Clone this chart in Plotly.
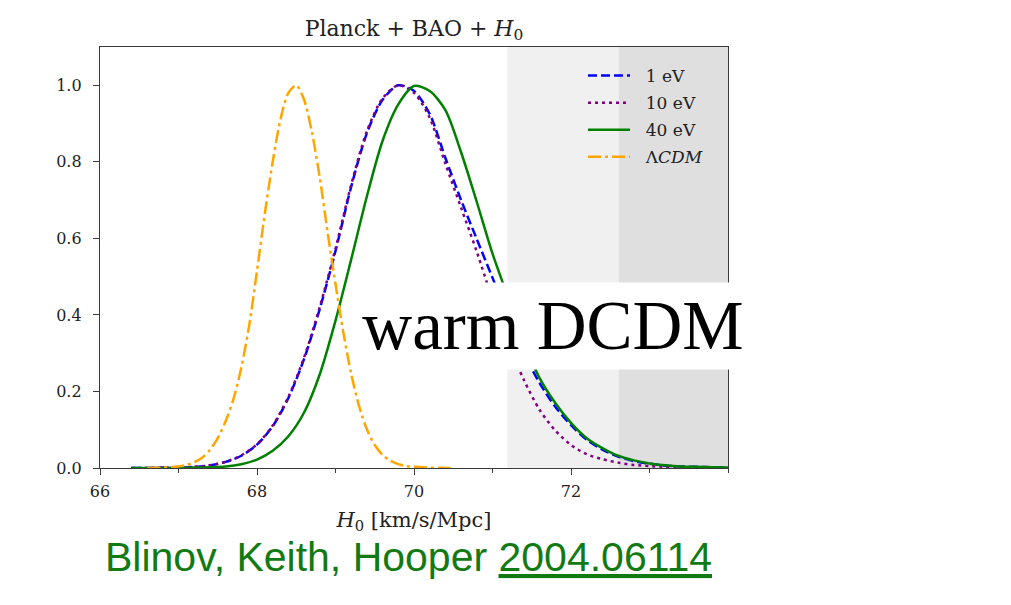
import plotly.graph_objects as go

# ---- data ----
h0_dcdm = [66.4, 66.6, 66.8, 67.0, 67.2, 67.4, 67.6, 67.8, 68.0, 68.2, 68.4, 68.6,
           68.8, 69.0, 69.2, 69.4, 69.6, 69.8, 70.0, 70.2, 70.4, 70.6, 70.8, 71.0,
           71.2, 71.4, 71.6, 71.8, 72.0, 72.2, 72.4, 72.6, 72.8, 73.0, 73.2, 73.4,
           73.6, 73.8, 74.0]
p_1ev = [0.000, 0.000, 0.001, 0.001, 0.003, 0.007, 0.016, 0.032, 0.061, 0.109, 0.183, 0.285,
         0.416, 0.567, 0.735, 0.875, 0.962, 1.000, 0.985, 0.925, 0.810, 0.700, 0.598, 0.497,
         0.395, 0.300, 0.222, 0.160, 0.112, 0.074, 0.048, 0.030, 0.018, 0.011, 0.006, 0.004,
         0.003, 0.002, 0.001]
p_10ev = [0.000, 0.000, 0.001, 0.001, 0.003, 0.007, 0.016, 0.033, 0.062, 0.111, 0.186, 0.289,
          0.421, 0.573, 0.740, 0.880, 0.966, 1.000, 0.980, 0.915, 0.795, 0.680, 0.565, 0.440,
          0.325, 0.230, 0.152, 0.098, 0.060, 0.036, 0.023, 0.014, 0.008, 0.005, 0.003, 0.002,
          0.001, 0.001, 0.000]
p_40ev = [0.000, 0.000, 0.000, 0.000, 0.001, 0.002, 0.004, 0.010, 0.022, 0.045, 0.083, 0.145,
          0.245, 0.385, 0.545, 0.710, 0.855, 0.950, 0.998, 0.985, 0.935, 0.825, 0.695, 0.560,
          0.445, 0.330, 0.235, 0.170, 0.118, 0.078, 0.052, 0.032, 0.020, 0.012, 0.007, 0.004,
          0.003, 0.002, 0.001]
h0_lcdm = [66.6, 66.8, 67.0, 67.1, 67.2, 67.3, 67.4, 67.5, 67.6, 67.7, 67.8, 67.9,
           68.0, 68.1, 68.2, 68.3, 68.4, 68.5, 68.6, 68.7, 68.8, 68.9, 69.0, 69.1,
           69.2, 69.3, 69.4, 69.5, 69.6, 69.7, 69.8, 69.9, 70.0, 70.2, 70.5]
p_lcdm = [0.000, 0.001, 0.004, 0.008, 0.015, 0.027, 0.047, 0.078, 0.122, 0.180, 0.262, 0.372,
          0.515, 0.665, 0.800, 0.912, 0.980, 1.000, 0.962, 0.877, 0.758, 0.615, 0.481, 0.354,
          0.246, 0.162, 0.101, 0.060, 0.034, 0.019, 0.010, 0.005, 0.003, 0.001, 0.000]

series_names = ["1 eV", "10 eV", "40 eV", "Λ<i>CDM</i>"]
shoes_2sigma_low = 71.19
shoes_1sigma_low = 72.61
x_range = [66, 74]
y_range = [0, 1.1]
x_ticks = [66, 68, 70, 72]
y_ticks = [0.0, 0.2, 0.4, 0.6, 0.8, 1.0]
title_text = "Planck + BAO + <i>H</i><sub>0</sub>"
xlabel_text = "<i>H</i><sub>0</sub> [km/s/Mpc]"
box_text = "warm DCDM"
cite_text = "Blinov, Keith, Hooper <u>2004.06114</u>"

SERIF = "DejaVu Serif"
AX = "#3a3a3a"
PAD = "\u00a0\u00a0"

fig = go.Figure()
specs = [
    (h0_dcdm, p_1ev, series_names[0], "#0000ff", "9px,4px"),
    (h0_dcdm, p_10ev, series_names[1], "#800080", "3px,4px"),
    (h0_dcdm, p_40ev, series_names[2], "#008000", "solid"),
    (h0_lcdm, p_lcdm, series_names[3], "#ffa500", "13px,4px,3px,4px"),
]
for i, (xs, ys, nm, col, dash) in enumerate(specs):
    fig.add_trace(go.Scatter(
        x=xs, y=ys, mode="lines", name=PAD + nm, legendgroup="g%d" % i,
        line=dict(color=col, width=2.5, dash=dash, shape="spline", smoothing=0.8),
        hoverinfo="skip"))

fig.add_shape(type="rect", xref="x", yref="y", x0=shoes_2sigma_low, x1=x_range[1],
              y0=y_range[0], y1=y_range[1], fillcolor="#f0f0f0", line_width=0, layer="below")
fig.add_shape(type="rect", xref="x", yref="y", x0=shoes_1sigma_low, x1=x_range[1],
              y0=y_range[0], y1=y_range[1], fillcolor="#dfdfdf", line_width=0, layer="below")

fig.add_annotation(text=box_text, xref="paper", yref="paper", x=0.7213, y=0.3373,
                   xanchor="center", yanchor="middle", showarrow=False,
                   font=dict(family="Liberation Serif", size=69, color="black"),
                   bgcolor="white", width=390, height=86, borderpad=0)
fig.add_annotation(text=cite_text, xref="paper", yref="paper", x=0.492, y=(468 - 557) / 421,
                   xanchor="center", yanchor="middle", showarrow=False, height=44, borderpad=0,
                   font=dict(family="Liberation Sans", size=41, color="#127a12"))

fig.update_layout(
    width=1011, height=605,
    margin=dict(l=100, r=283, t=47, b=137),
    paper_bgcolor="white", plot_bgcolor="white",
    title=dict(text=title_text, x=0.4095, xanchor="center", y=1 - 28 / 605, yanchor="middle",
               font=dict(family=SERIF, size=22, color="#222")),
    legend=dict(x=(583 - 100) / 628, y=(468 - 58) / 421, xanchor="left", yanchor="top",
                bgcolor="rgba(0,0,0,0)", borderwidth=0, tracegroupgap=2, itemwidth=42,
                font=dict(family=SERIF, size=17, color="#222")),
    showlegend=True,
)
fig.update_xaxes(range=x_range, tickvals=x_ticks, ticks="outside", ticklen=6, tickwidth=1.3,
                 tickcolor=AX, showline=True, linecolor=AX, linewidth=1.3, mirror=True,
                 showgrid=False, zeroline=False, ticklabelstandoff=3,
                 tickfont=dict(family=SERIF, size=16, color="#222"),
                 minor=dict(ticks="outside", dtick=1, tick0=66, ticklen=3.5, tickwidth=1.1, tickcolor=AX),
                 title=dict(text=xlabel_text, font=dict(family=SERIF, size=21, color="#222"), standoff=11))
fig.update_yaxes(range=y_range, tickvals=y_ticks, tickformat=".1f", ticks="outside", ticklen=6,
                 tickwidth=1.3, tickcolor=AX, showline=True, linecolor=AX, linewidth=1.3, mirror=True,
                 showgrid=False, zeroline=False, ticklabelstandoff=8,
                 tickfont=dict(family=SERIF, size=16, color="#222"))

fig.write_html("out.html")
